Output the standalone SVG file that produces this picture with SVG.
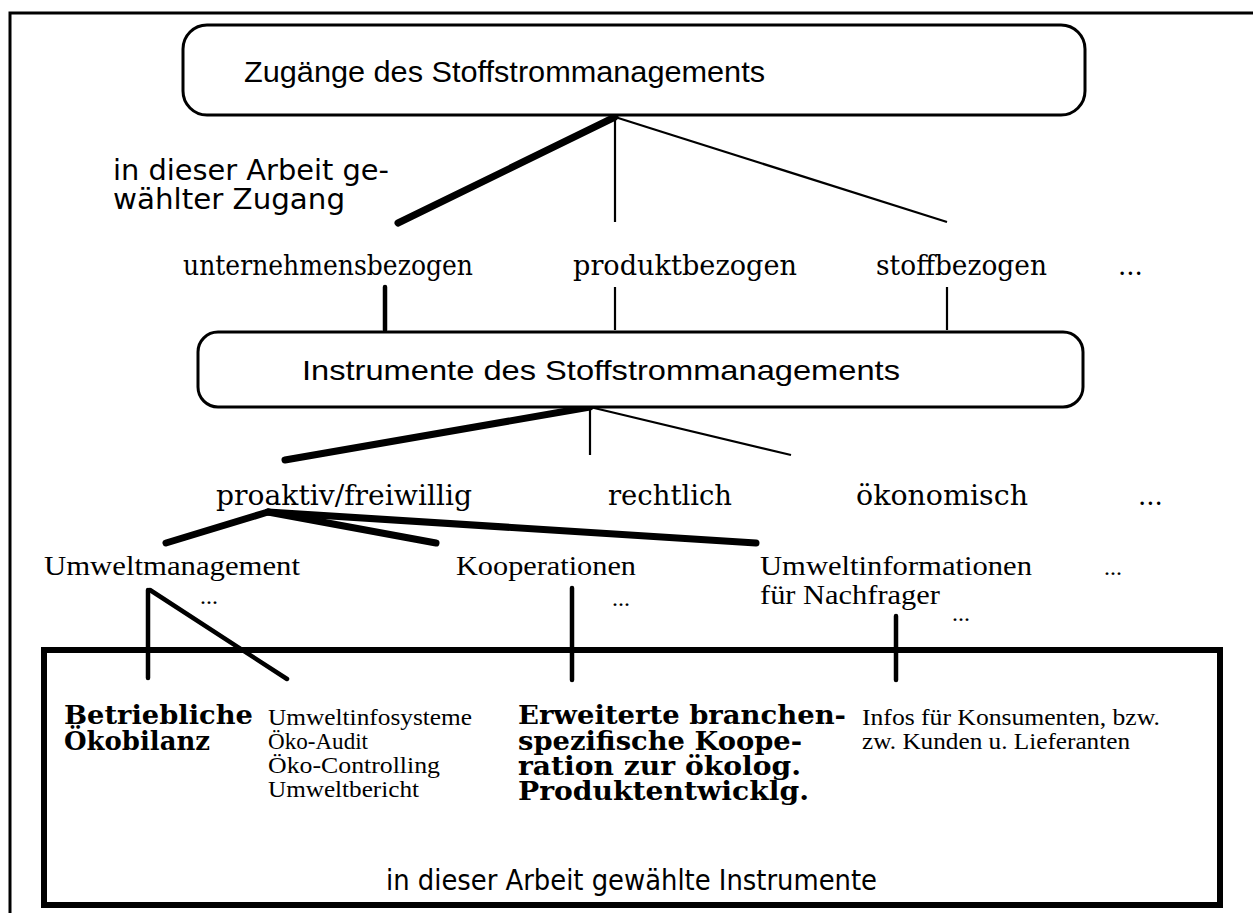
<svg xmlns="http://www.w3.org/2000/svg" width="1253" height="913" viewBox="0 0 1253 913">
<style>
.box{fill:#fff;stroke:#000;stroke-width:3}
.frame{fill:none;stroke:#000}
.thick{stroke:#000;stroke-width:7;stroke-linecap:round;fill:none}
.med{stroke:#000;stroke-width:4.5;stroke-linecap:round;fill:none}
.thin{stroke:#000;stroke-width:2.2;fill:none}
.sans{font-family:"Liberation Sans",Arial,sans-serif;fill:#000}
.geo{font-family:"DejaVu Sans","Liberation Sans",sans-serif;fill:#000}
.csb{font-family:"DejaVu Serif","Liberation Serif",serif;fill:#000}
.tms{font-family:"Liberation Serif","Times New Roman",serif;fill:#000}
.bold{font-family:"DejaVu Serif","Liberation Serif",serif;font-weight:bold;fill:#000}
</style>
<rect width="1253" height="913" fill="#fff"/>
<g id="frame">
<path class="frame" stroke-width="3" d="M10,913 V13 H1253"/>
</g>
<g id="connectors">
<line class="thick" x1="615" y1="117" x2="398" y2="223"/>
<line class="thin" x1="615" y1="117" x2="615" y2="222"/>
<line class="thin" x1="615" y1="117" x2="947" y2="222" stroke-width="2.6"/>
<line class="med" x1="385" y1="287" x2="385" y2="330"/>
<line class="thin" x1="615" y1="287" x2="615" y2="330"/>
<line class="thin" x1="947" y1="287" x2="947" y2="330" stroke-width="2.6"/>
<line class="thick" x1="590" y1="407" x2="285" y2="460"/>
<line class="thin" x1="590" y1="407" x2="590" y2="455"/>
<line class="thin" x1="590" y1="407" x2="791" y2="455" stroke-width="3"/>
<line class="thick" x1="268" y1="512" x2="166" y2="543"/>
<line class="thick" x1="268" y1="512" x2="436" y2="543"/>
<line class="thick" x1="268" y1="512" x2="756" y2="543"/>
<line class="med" x1="148" y1="590" x2="148" y2="678"/>
<line class="med" x1="150" y1="590" x2="287" y2="679"/>
<line class="med" x1="572" y1="588" x2="572" y2="680"/>
<line class="med" x1="896" y1="616" x2="896" y2="680"/>
</g>
<g id="node-zugaenge">
<rect class="box" x="183" y="25" width="902" height="90" rx="24"/>
<text class="sans" x="244" y="82" font-size="30" textLength="521" lengthAdjust="spacingAndGlyphs">Zugänge des Stoffstrommanagements</text>
</g>
<g id="label-zugang">
<text class="geo" x="113" y="180" font-size="28" textLength="276" lengthAdjust="spacingAndGlyphs">in dieser Arbeit ge-</text>
<text class="geo" x="113" y="209" font-size="28" textLength="232" lengthAdjust="spacingAndGlyphs">wählter Zugang</text>
</g>
<g id="node-unternehmensbezogen"><text class="csb" x="183" y="275" font-size="27" textLength="290" lengthAdjust="spacingAndGlyphs">unternehmensbezogen</text></g>
<g id="node-produktbezogen"><text class="csb" x="573" y="275" font-size="27" textLength="224" lengthAdjust="spacingAndGlyphs">produktbezogen</text></g>
<g id="node-stoffbezogen"><text class="csb" x="876" y="275" font-size="27" textLength="171" lengthAdjust="spacingAndGlyphs">stoffbezogen</text></g>
<g id="node-more1"><text class="csb" x="1118" y="275" font-size="26">...</text></g>
<g id="node-instrumente">
<rect class="box" x="198" y="332" width="885" height="75" rx="20"/>
<text class="sans" x="302" y="380" font-size="28" textLength="598" lengthAdjust="spacingAndGlyphs">Instrumente des Stoffstrommanagements</text>
</g>
<g id="node-proaktiv"><text class="csb" x="216" y="505" font-size="27" textLength="256" lengthAdjust="spacingAndGlyphs">proaktiv/freiwillig</text></g>
<g id="node-rechtlich"><text class="csb" x="608" y="505" font-size="27" textLength="124" lengthAdjust="spacingAndGlyphs">rechtlich</text></g>
<g id="node-oekonomisch"><text class="csb" x="856" y="505" font-size="27" textLength="172" lengthAdjust="spacingAndGlyphs">ökonomisch</text></g>
<g id="node-more2"><text class="csb" x="1138" y="505" font-size="26">...</text></g>
<g id="node-umweltmanagement"><text class="tms" x="44" y="575" font-size="28" textLength="256" lengthAdjust="spacingAndGlyphs">Umweltmanagement</text>
<text class="tms" x="200" y="604" font-size="24">...</text></g>
<g id="node-kooperationen"><text class="tms" x="456" y="575" font-size="28" textLength="180" lengthAdjust="spacingAndGlyphs">Kooperationen</text>
<text class="tms" x="612" y="606" font-size="24">...</text></g>
<g id="node-umweltinformationen"><text class="tms" x="760" y="575" font-size="28" textLength="272" lengthAdjust="spacingAndGlyphs">Umweltinformationen</text>
<text class="tms" x="760" y="604" font-size="28" textLength="180" lengthAdjust="spacingAndGlyphs">für Nachfrager</text>
<text class="tms" x="952" y="621" font-size="24">...</text></g>
<g id="node-more3"><text class="tms" x="1104" y="575" font-size="24">...</text></g>
<g id="node-gewaehlte-instrumente">
<rect class="frame" stroke-width="6" x="44" y="650" width="1176" height="255"/>
<text class="geo" x="386" y="890" font-size="28" textLength="491" lengthAdjust="spacingAndGlyphs">in dieser Arbeit gewählte Instrumente</text>
</g>
<g id="node-oekobilanz">
<text class="bold" x="64" y="724" font-size="26" textLength="189" lengthAdjust="spacingAndGlyphs">Betriebliche</text>
<text class="bold" x="64" y="750" font-size="26" textLength="146" lengthAdjust="spacingAndGlyphs">Ökobilanz</text>
</g>
<g id="node-umweltinfosysteme">
<text class="tms" x="268" y="725" font-size="24" textLength="204" lengthAdjust="spacingAndGlyphs">Umweltinfosysteme</text>
<text class="tms" x="268" y="749" font-size="24" textLength="100" lengthAdjust="spacingAndGlyphs">Öko-Audit</text>
<text class="tms" x="268" y="773" font-size="24" textLength="172" lengthAdjust="spacingAndGlyphs">Öko-Controlling</text>
<text class="tms" x="268" y="797" font-size="24" textLength="151" lengthAdjust="spacingAndGlyphs">Umweltbericht</text>
</g>
<g id="node-kooperation">
<text class="bold" x="518" y="724" font-size="26" textLength="328" lengthAdjust="spacingAndGlyphs">Erweiterte branchen-</text>
<text class="bold" x="518" y="750" font-size="26" textLength="284" lengthAdjust="spacingAndGlyphs">spezifische Koope-</text>
<text class="bold" x="518" y="775" font-size="26" textLength="283" lengthAdjust="spacingAndGlyphs">ration zur ökolog.</text>
<text class="bold" x="518" y="800" font-size="26" textLength="291" lengthAdjust="spacingAndGlyphs">Produktentwicklg.</text>
</g>
<g id="node-infos">
<text class="tms" x="862" y="725" font-size="24" textLength="298" lengthAdjust="spacingAndGlyphs">Infos für Konsumenten, bzw.</text>
<text class="tms" x="862" y="749" font-size="24" textLength="268" lengthAdjust="spacingAndGlyphs">zw. Kunden u. Lieferanten</text>
</g>
</svg>
